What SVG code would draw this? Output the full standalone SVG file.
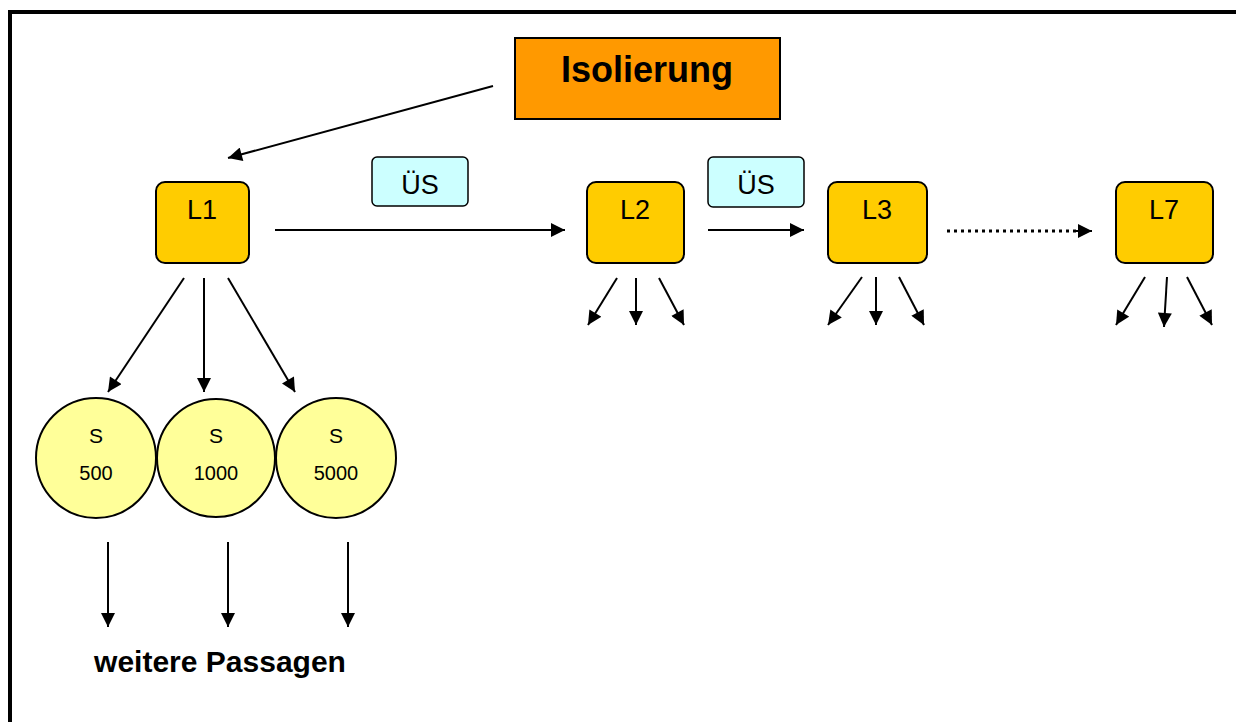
<svg xmlns="http://www.w3.org/2000/svg" width="1236" height="722" viewBox="0 0 1236 722">
<defs>
<marker id="ah" viewBox="0 0 10 10" refX="10" refY="5" markerWidth="15" markerHeight="14" markerUnits="userSpaceOnUse" orient="auto">
<path d="M0,0 L10,5 L0,10 z" fill="#000"/>
</marker>
<style>
.l{fill:#ffcc00;stroke:#000;stroke-width:2}
.us{fill:#ccffff;stroke:#000;stroke-width:1.5}
.c{fill:#ffff99;stroke:#000;stroke-width:2}
.t{font-family:"Liberation Sans",Arial,sans-serif;fill:#000;text-anchor:middle}
.e{stroke:#000;stroke-width:2;fill:none;marker-end:url(#ah)}
</style>
</defs>
<rect width="1236" height="722" fill="#fff"/>
<rect x="10" y="12" width="1260" height="740" fill="none" stroke="#000" stroke-width="4"/>

<g id="isolierung">
<rect x="515" y="38" width="265" height="81" fill="#ff9900" stroke="#000" stroke-width="2"/>
<text class="t" x="647" y="82" font-size="36" font-weight="bold">Isolierung</text>
</g>
<g id="L1">
<rect class="l" x="156" y="182" width="93" height="81" rx="9"/>
<text class="t" x="202" y="219" font-size="27">L1</text>
</g>
<g id="us1">
<rect class="us" x="372" y="157" width="96" height="49" rx="5"/>
<text class="t" x="420" y="194" font-size="27">ÜS</text>
</g>
<g id="L2">
<rect class="l" x="587" y="182" width="97" height="81" rx="9"/>
<text class="t" x="635" y="219" font-size="27">L2</text>
</g>
<g id="us2">
<rect class="us" x="708" y="157" width="96" height="50" rx="5"/>
<text class="t" x="756" y="194" font-size="27">ÜS</text>
</g>
<g id="L3">
<rect class="l" x="828" y="182" width="99" height="81" rx="9"/>
<text class="t" x="877" y="219" font-size="27">L3</text>
</g>
<g id="L7">
<rect class="l" x="1116" y="182" width="97" height="81" rx="9"/>
<text class="t" x="1164" y="219" font-size="27">L7</text>
</g>
<g id="s500">
<circle class="c" cx="96" cy="458" r="60"/>
<text class="t" x="96" y="443" font-size="21">S</text>
<text class="t" x="96" y="480" font-size="20">500</text>
</g>
<g id="s1000">
<circle class="c" cx="216" cy="458" r="59"/>
<text class="t" x="216" y="443" font-size="21">S</text>
<text class="t" x="216" y="480" font-size="20">1000</text>
</g>
<g id="s5000">
<circle class="c" cx="336" cy="458" r="60"/>
<text class="t" x="336" y="443" font-size="21">S</text>
<text class="t" x="336" y="480" font-size="20">5000</text>
</g>
<g id="label">
<text class="t" x="220" y="672" font-size="30" font-weight="bold">weitere Passagen</text>
</g>

<g id="connectors">
<line class="e" x1="493" y1="86" x2="228" y2="158"/>
<line class="e" x1="275" y1="230" x2="565" y2="230"/>
<line class="e" x1="708" y1="230" x2="804" y2="230"/>
<line x1="947" y1="231" x2="1076" y2="231" stroke="#000" stroke-width="3" stroke-dasharray="3,4"/>
<line class="e" x1="1076" y1="231" x2="1092" y2="231"/>
<line class="e" x1="184" y1="278" x2="108" y2="392"/>
<line class="e" x1="204" y1="278" x2="204" y2="392"/>
<line class="e" x1="228" y1="278" x2="295" y2="392"/>
<line class="e" x1="617" y1="278" x2="588" y2="325"/>
<line class="e" x1="636" y1="278" x2="636" y2="325"/>
<line class="e" x1="659" y1="278" x2="684" y2="325"/>
<line class="e" x1="862" y1="277" x2="828" y2="325"/>
<line class="e" x1="876" y1="277" x2="876" y2="325"/>
<line class="e" x1="899" y1="277" x2="924" y2="325"/>
<line class="e" x1="1145" y1="277" x2="1116" y2="325"/>
<line class="e" x1="1167" y1="277" x2="1164" y2="327"/>
<line class="e" x1="1187" y1="277" x2="1212" y2="325"/>
<line class="e" x1="108" y1="542" x2="108" y2="627"/>
<line class="e" x1="228" y1="542" x2="228" y2="627"/>
<line class="e" x1="348" y1="542" x2="348" y2="627"/>
</g>
</svg>
